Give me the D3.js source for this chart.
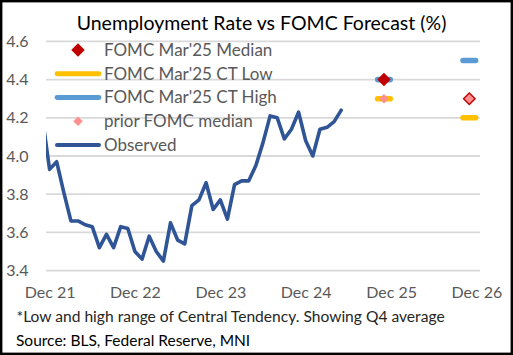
<!DOCTYPE html>
<html>
<head>
<meta charset="utf-8">
<script src="https://cdn.jsdelivr.net/npm/d3@7"></script>
<style>
  html, body { margin: 0; padding: 0; background: #fff; }
  svg { display: block; }
  text { font-family: Lato, "Liberation Sans", sans-serif; }
</style>
</head>
<body>
<svg id="chart" width="513" height="355"></svg>
<script>
// ---------------- data ----------------
const chartTitle = "Unemployment Rate vs FOMC Forecast (%)";
const observedStart = "2021-11";   // first monthly observation
const observed = [4.2, 3.93, 3.97, 3.81, 3.66, 3.66, 3.64, 3.63, 3.52, 3.59, 3.52, 3.63, 3.62, 3.50,
                  3.46, 3.58, 3.50, 3.45, 3.65, 3.56, 3.54, 3.74, 3.77, 3.86, 3.72, 3.77,
                  3.67, 3.85, 3.87, 3.87, 3.95, 4.07, 4.21, 4.20, 4.09, 4.14, 4.23, 4.08,
                  4.00, 4.14, 4.15, 4.18, 4.24];
const forecastPeriods = ["2025-11", "2026-11"];   // Q4 average, plotted mid-quarter
const medianMar25 = [4.4, 4.3];
const ctLowMar25  = [4.3, 4.2];
const ctHighMar25 = [4.4, 4.5];
const priorMedian = [4.3, 4.3];
const xTickMonths = ["2021-12", "2022-12", "2023-12", "2024-12", "2025-12", "2026-12"];
const xTickLabels = ["Dec 21", "Dec 22", "Dec 23", "Dec 24", "Dec 25", "Dec 26"];
const yTicks = [3.4, 3.6, 3.8, 4.0, 4.2, 4.4, 4.6];
const legendLabels = ["FOMC Mar'25 Median", "FOMC Mar'25 CT Low", "FOMC Mar'25 CT High", "prior FOMC median", "Observed"];
const footnote = "*Low and high range of Central Tendency. Showing Q4 average";
const source = "Source: BLS, Federal Reserve, MNI";

// ---------------- helpers ----------------
const monthIndex = s => { const [y, m] = s.split("-").map(Number); return (y - 2021) * 12 + (m - 12); };
const addMonths = (s, k) => { const [y, m] = s.split("-").map(Number); const t = y * 12 + (m - 1) + k; return Math.floor(t / 12) + "-" + String(t % 12 + 1).padStart(2, "0"); };

const colors = { median: "#c00000", low: "#ffc000", high: "#5b9bd5", prior: "#ff8f8f", obs: "#2f5597", grid: "#d9d9d9", axis: "#595959" };

const svg = d3.select("#chart");
// outer border
svg.append("rect").attr("x", 1.2).attr("y", 1.2).attr("width", 510.6).attr("height", 352.6)
  .attr("fill", "#fff").attr("stroke", "#000").attr("stroke-width", 2.4);

const x = d3.scaleLinear().domain([-0.5, 60.5]).range([46, 480]);
const y = d3.scaleLinear().domain([3.4, 4.6]).range([270.6, 41.4]);

// gridlines
svg.append("g").selectAll("line").data(yTicks).join("line")
  .attr("x1", x.range()[0]).attr("x2", x.range()[1])
  .attr("y1", d => y(d)).attr("y2", d => y(d))
  .attr("stroke", colors.grid).attr("stroke-width", 1.8);

// y axis labels
const yAxis = d3.axisLeft(y).tickValues(yTicks).tickFormat(d3.format(".1f")).tickSize(0).tickPadding(0);
const gy = svg.append("g").attr("transform", "translate(28.5,0)").call(yAxis);
gy.select(".domain").remove();
gy.selectAll("text").attr("fill", colors.axis).style("font-size", "16px").style("font-family", "Lato, sans-serif");

// x axis labels
const xAxis = d3.axisBottom(x).tickValues(xTickMonths.map(monthIndex))
  .tickFormat((d, i) => xTickLabels[i]).tickSize(0).tickPadding(0);
const gx = svg.append("g").attr("transform", "translate(0,287)").call(xAxis);
gx.select(".domain").remove();
gx.selectAll("text").attr("fill", colors.axis).style("font-size", "16px").style("font-family", "Lato, sans-serif");

// clip
svg.append("clipPath").attr("id", "plotclip").append("rect")
  .attr("x", x.range()[0]).attr("y", 20).attr("width", x.range()[1] - x.range()[0]).attr("height", 270);

// observed line
const obsData = observed.map((v, i) => ({ m: monthIndex(addMonths(observedStart, i)), v }));
svg.append("path").datum(obsData)
  .attr("clip-path", "url(#plotclip)")
  .attr("d", d3.line().x(d => x(d.m)).y(d => y(d.v)))
  .attr("fill", "none").attr("stroke", colors.obs).attr("stroke-width", 3.6)
  .attr("stroke-linejoin", "round").attr("stroke-linecap", "round");

const diamond = (g, cx, cy, w, fill) =>
  g.append("path").attr("d", d3.symbol(d3.symbolSquare, (w / Math.SQRT2) ** 2)())
    .attr("transform", `translate(${cx},${cy}) rotate(45)`).attr("fill", fill);
const dash = (g, cx, cy, len, col, sw) =>
  g.append("line").attr("x1", cx - len / 2).attr("x2", cx + len / 2).attr("y1", cy).attr("y2", cy)
    .attr("stroke", col).attr("stroke-width", sw).attr("stroke-linecap", "round");

// forecasts
const fg = svg.append("g");
forecastPeriods.forEach((p, i) => {
  const cx = x(monthIndex(p));
  dash(fg, cx, y(ctLowMar25[i]), 12.6, colors.low, 5.6);
  dash(fg, cx, y(ctHighMar25[i]), 12.6, colors.high, 5.6);
});
forecastPeriods.forEach((p, i) => diamond(fg, x(monthIndex(p)), y(medianMar25[i]), 13.5, colors.median));
forecastPeriods.forEach((p, i) => diamond(fg, x(monthIndex(p)), y(priorMedian[i]), 9.5, colors.prior));

// legend
const lg = svg.append("g");
const ly0 = 50, ldy = 23.75, lx = 104, lsx = 78;
legendLabels.forEach((lab, i) => {
  const cy = ly0 + i * ldy;
  if (i === 0) diamond(lg, lsx, cy, 13.5, colors.median);
  if (i === 1) dash(lg, lsx, cy, 42, colors.low, 4.8);
  if (i === 2) dash(lg, lsx, cy, 42, colors.high, 4.8);
  if (i === 3) diamond(lg, lsx, cy, 9.5, colors.prior);
  if (i === 4) dash(lg, lsx, cy, 42, colors.obs, 4);
  lg.append("text").attr("x", lx).attr("y", cy).attr("dy", "0.35em")
    .attr("fill", colors.axis).style("font-size", "17px").text(lab);
});

// title
svg.append("text").attr("x", 261.5).attr("y", 30).attr("text-anchor", "middle")
  .attr("fill", "#000").style("font-size", "19.5px").text(chartTitle);

// footnotes
svg.append("text").attr("x", 16.5).attr("y", 322).attr("fill", "#262626").style("font-size", "15.6px").text(footnote);
svg.append("text").attr("x", 16).attr("y", 346).attr("fill", "#000").style("font-size", "15.5px").text(source);
</script>
</body>
</html>
